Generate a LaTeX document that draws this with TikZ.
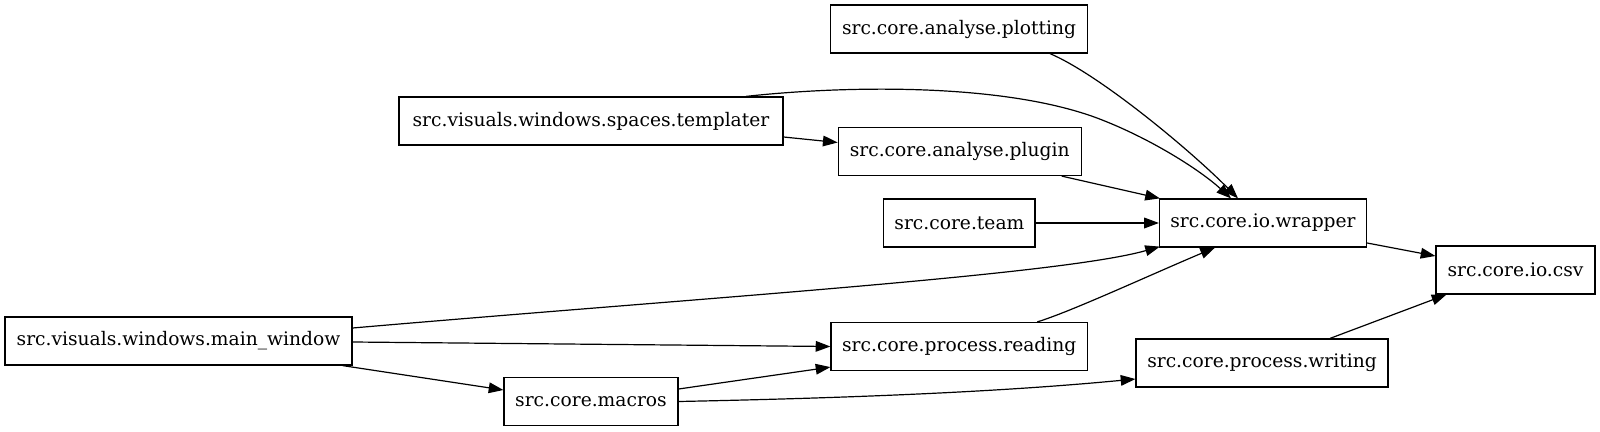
\documentclass[tikz,border=0pt]{standalone}
\usepackage{fontspec}
\setmainfont{DejaVu Serif}
\usetikzlibrary{arrows.meta,calc}
\begin{document}
\begin{tikzpicture}[x=0.75pt,y=-0.75pt,
  box/.style={draw,line width=0.9pt,rectangle,minimum height=36pt,inner sep=0pt,font=\fontsize{14}{16}\selectfont},
  edge/.style={line width=0.9pt,-{Triangle[length=11pt,width=8pt]}}]
\useasboundingbox (0,0) rectangle (1600,432);
\node[box,minimum width=192.75pt] (plot) at (959,29) {src.core.analyse.plotting};
\node[box,minimum width=288pt] (templ) at (591,121) {src.visuals.windows.spaces.templater};
\node[box,minimum width=182.25pt] (plugin) at (959.7,151.5) {src.core.analyse.plugin};
\node[box,minimum width=113.5pt] (team) at (959.4,223) {src.core.team};
\node[box,minimum width=155.25pt] (wrapper) at (1263,223) {src.core.io.wrapper};
\node[box,minimum width=119.25pt] (csv) at (1515.5,270) {src.core.io.csv};
\node[box,minimum width=260.25pt] (mainw) at (178.5,341) {src.visuals.windows.main\_window};
\node[box,minimum width=192.4pt] (reading) at (959.25,346.5) {src.core.process.reading};
\node[box,minimum width=189pt] (writing) at (1262,363) {src.core.process.writing};
\node[box,minimum width=130.5pt] (macros) at (591,401.5) {src.core.macros};

\draw[edge] ($(templ.north)+(155,0)$) .. controls (840,86) and (1000,82) .. (1097,118)
  .. controls (1150,138) and (1200,170) .. ($(wrapper.north)+(-32,0)$);
\draw[edge] ($(plot.south)+(91,0)$) .. controls (1100,75) and (1190,150) .. ($(wrapper.north)+(-25,0)$);
\draw[edge] ($(templ.east)+(0,16)$) -- ($(plugin.west)+(0,-9)$);
\draw[edge] ($(plugin.south)+(102,0)$) -- ($(wrapper.north west)+(1,0)$);
\draw[edge] (team.east) -- (wrapper.west);
\draw[edge] ($(mainw.east)+(0,-13)$) .. controls (700,298) and (1060,275) .. ($(wrapper.south west)+(1,-1)$);
\draw[edge] ($(mainw.east)+(0,1)$) -- (reading.west);
\draw[edge] ($(mainw.south east)+(-10,0)$) -- ($(macros.west)+(0,-11.5)$);
\draw[edge] ($(macros.east)+(0,-12.5)$) -- ($(reading.south west)+(0,-4)$);
\draw[edge] (macros.east) .. controls (850,398) and (1000,392) .. ($(writing.west)+(0,16)$);
\draw[edge] ($(reading.north)+(78,0)$) .. controls (1070,312) and (1150,275) .. ($(wrapper.south)+(-48,0)$);
\draw[edge] ($(wrapper.east)+(0,20)$) -- ($(csv.west)+(0,-14)$);
\draw[edge] ($(writing.north)+(68,0)$) -- ($(csv.south west)+(11,0)$);
\end{tikzpicture}
\end{document}
